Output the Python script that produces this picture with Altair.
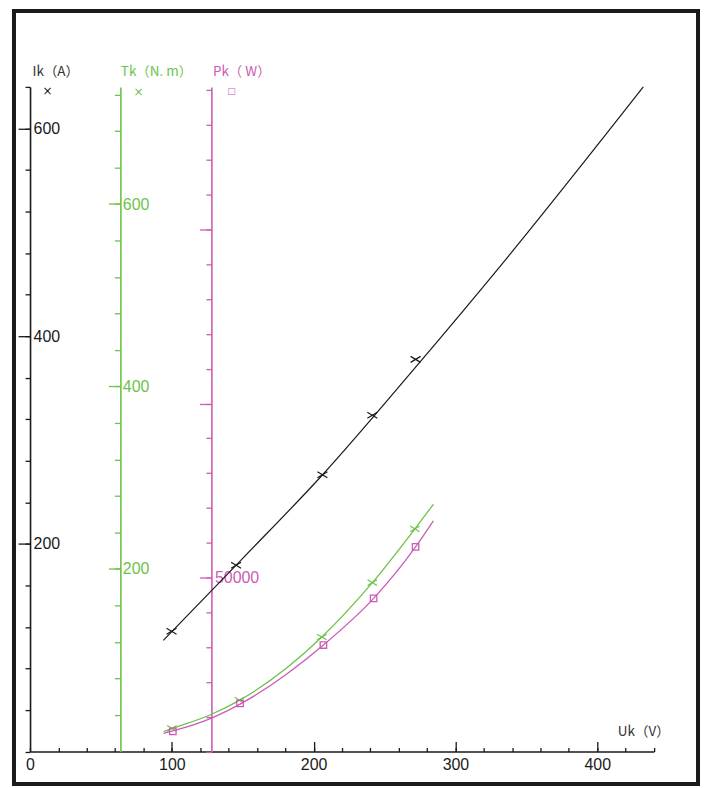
import altair as alt
import pandas as pd

# ---------------- data ----------------
# Ik (A) vs Uk (V)
ik_curve_uk = [94, 150, 206, 270, 335, 432.5]
ik_curve_val = [107, 186, 266, 367, 473, 640]
ik_point_uk = [99.8, 145.3, 206.2, 241.4, 271.9]
ik_point_val = [115.7, 179.4, 266.5, 323.8, 377.6]

# Tk (N.m) vs Uk (V)
tk_curve_uk = [94.2, 100, 127.7, 147.6, 205.8, 241.4, 271.4, 284.5]
tk_curve_val = [21.8, 25, 40.5, 56, 125.5, 185, 244, 271]
tk_point_uk = [100, 147.6, 205.8, 241.4, 271.4]
tk_point_val = [25.4, 56.3, 125.5, 185, 244]

# Pk (W) vs Uk (V)
pk_curve_uk = [94.2, 100.7, 128, 148.1, 206.9, 242.3, 271.9, 284.5]
pk_curve_val = [5200, 5900, 9600, 13600, 30600, 44000, 58800, 66300]
pk_point_uk = [100.7, 148.1, 206.9, 242.3, 271.9]
pk_point_val = [5790, 13800, 30600, 44000, 58800]

# tick values
uk_labels = [0, 100, 200, 300, 400]
uk_major = [100, 200, 300, 400]
uk_minor = list(range(0, 441, 20))
ik_major = [200, 400, 600]
ik_minor = list(range(0, 641, 40))
tk_major = [200, 400, 600]
tk_minor = list(range(40, 721, 40))
pk_major = [50000, 100000, 150000]
pk_minor = list(range(0, 190001, 10000))
pk_labelled = [50000]

# ---------------- styling ----------------
W, H = 686, 775
X_RANGE = [16.1, 641.8]
BASE = 742.5
Y_RANGE = [BASE, 76]
BLACK = "#1a1a1a"
GREEN = "#6dc34a"
MAGENTA = "#cc5cb6"
NUM_FONT = "Liberation Sans"
TXT_FONT = "Noto Sans CJK JP"
NUM_SIZE = 16
TXT_SIZE = 13.5

xs = alt.Scale(domain=[0, 440], range=X_RANGE, nice=False, zero=False)
ik_s = alt.Scale(domain=[0, 640], range=Y_RANGE, nice=False, zero=False)
tk_s = alt.Scale(domain=[0, 728.4], range=Y_RANGE, nice=False, zero=False)
pk_s = alt.Scale(domain=[0, 191000], range=Y_RANGE, nice=False, zero=False)


def major_y(offset, values, color, title, title_x, pad, label_expr=None):
    kw = dict(
        orient="left", offset=offset, values=values, grid=False,
        domain=True, domainColor=color, domainWidth=1.6,
        ticks=True, tickSize=12, tickColor=color, tickWidth=1.3,
        labels=True, labelAlign="left", labelBaseline="middle",
        labelPadding=pad, labelColor=color, labelFont=NUM_FONT,
        labelFontSize=NUM_SIZE, labelFlush=False, labelOverlap=False,
        format="d",
        title=title, titleAngle=0, titleAlign="left", titleBaseline="middle",
        titleX=title_x, titleY=61, titleColor=color if color != BLACK else "#333333",
        titleFont=TXT_FONT, titleFontSize=TXT_SIZE, titleFontWeight="normal",
    )
    if label_expr:
        kw["labelExpr"] = label_expr
    return alt.Axis(**kw)


def minor_y(offset, values, color, size, symbol, sx, sy, sym_size):
    return alt.Axis(
        orient="left", offset=offset, values=values, grid=False,
        domain=False, ticks=True, tickSize=size, tickColor=color, tickWidth=1.3,
        labels=False,
        title=symbol, titleAngle=0, titleAlign="center", titleBaseline="middle",
        titleX=sx, titleY=sy, titleColor=color, titleFont="DejaVu Sans",
        titleFontSize=sym_size, titleFontWeight="normal",
    )


x_label_axis = alt.Axis(
    orient="bottom", offset=-(H - BASE), values=uk_labels, grid=False,
    domain=False, ticks=False, tickSize=0, labelPadding=13,
    labelBaseline="middle", labelFont=NUM_FONT, labelFontSize=NUM_SIZE,
    labelColor=BLACK, labelFlush=False, labelOverlap=False, title=None,
)
x_major_axis = alt.Axis(
    orient="top", offset=-BASE, values=uk_major, grid=False,
    domain=True, domainColor=BLACK, domainWidth=1.6,
    ticks=True, tickSize=10, tickColor=BLACK, tickWidth=1.3, labels=False,
    title="Uk（V）", titleAngle=0, titleAlign="right", titleBaseline="middle",
    titleX=657, titleY=-20.5, titleColor="#333333", titleFont=TXT_FONT,
    titleFontSize=TXT_SIZE, titleFontWeight="normal",
)
x_minor_axis = alt.Axis(
    orient="top", offset=-BASE, values=uk_minor, grid=False,
    domain=False, ticks=True, tickSize=4, tickColor=BLACK, tickWidth=1.3,
    labels=False, title=None,
)

X_SHAPE = "M-1,-0.6L1,0.6M-1,0.6L1,-0.6"


def frame(xv, yv):
    return pd.DataFrame({"uk": xv, "v": yv})


ik_line = alt.Chart(frame(ik_curve_uk, ik_curve_val)).mark_line(
    color=BLACK, strokeWidth=1.2, interpolate="monotone"
).encode(
    x=alt.X("uk:Q", scale=xs, axis=x_label_axis),
    y=alt.Y("v:Q", scale=ik_s,
            axis=major_y(-16.1, ik_major, BLACK, "Ik（A）", 2, -15)),
)
ik_pts = alt.Chart(frame(ik_point_uk, ik_point_val)).mark_point(
    shape=X_SHAPE, filled=False, size=100, strokeWidth=1.2, color=BLACK, opacity=1
).encode(
    x=alt.X("uk:Q", scale=xs, axis=x_major_axis),
    y=alt.Y("v:Q", scale=ik_s,
            axis=minor_y(-16.1, ik_minor, BLACK, 5, "×", 17, 80, 12)),
)
tk_line = alt.Chart(frame(tk_curve_uk, tk_curve_val)).mark_line(
    color=GREEN, strokeWidth=1.3, interpolate="monotone"
).encode(
    x=alt.X("uk:Q", scale=xs, axis=x_minor_axis),
    y=alt.Y("v:Q", scale=tk_s,
            axis=major_y(-106.7, tk_major, GREEN, "Tk（N. m）", 0, -14)),
)
tk_pts = alt.Chart(frame(tk_point_uk, tk_point_val)).mark_point(
    shape=X_SHAPE, filled=False, size=90, strokeWidth=1.2, color=GREEN, opacity=1
).encode(
    x=alt.X("uk:Q", scale=xs, axis=None),
    y=alt.Y("v:Q", scale=tk_s,
            axis=minor_y(-106.7, tk_minor, GREEN, 6, "×", 17.6, 81, 12)),
)
pk_line = alt.Chart(frame(pk_curve_uk, pk_curve_val)).mark_line(
    color=MAGENTA, strokeWidth=1.3, interpolate="monotone"
).encode(
    x=alt.X("uk:Q", scale=xs, axis=None),
    y=alt.Y("v:Q", scale=pk_s,
            axis=major_y(-198, pk_major, MAGENTA, "Pk（ W）", 1, -15,
                         label_expr=f"indexof({pk_labelled}, datum.value) >= 0 ? datum.label : ''")),
)
pk_pts = alt.Chart(frame(pk_point_uk, pk_point_val)).mark_point(
    shape="square", filled=False, size=42, strokeWidth=1.3, color=MAGENTA, opacity=1
).encode(
    x=alt.X("uk:Q", scale=xs, axis=None),
    y=alt.Y("v:Q", scale=pk_s,
            axis=minor_y(-198, pk_minor, MAGENTA, 5.5, "□", 19.7, 80, 9)),
)

chart = alt.layer(ik_line, ik_pts, tk_line, tk_pts, pk_line, pk_pts).resolve_scale(
    y="independent"
).resolve_axis(
    x="independent", y="independent"
).properties(
    width=W, height=H,
    autosize=alt.AutoSizeParams(type="none"),
    padding={"left": 6, "top": 2, "right": 4, "bottom": 4},
    background="white",
).configure_view(
    stroke=BLACK, strokeWidth=4
)

chart.save("out.html", embed_options={"renderer": "svg", "actions": False})
